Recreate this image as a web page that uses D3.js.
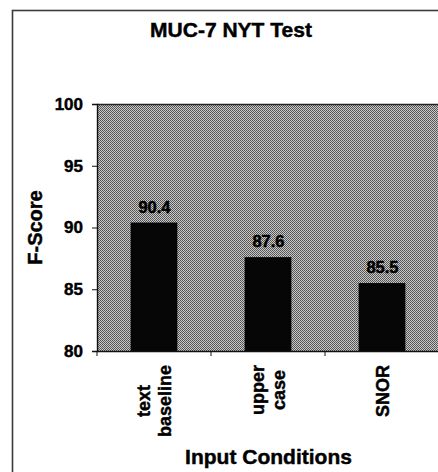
<!DOCTYPE html>
<html>
<head>
<meta charset="utf-8">
<script src="https://cdn.jsdelivr.net/npm/d3@7"></script>
<style>
  html, body { margin: 0; padding: 0; background: #fff; }
  svg { display: block; font-family: "Liberation Sans", Arial, Helvetica, sans-serif; font-weight: bold; }
  svg text { stroke: #000; stroke-width: 0.45px; }
</style>
</head>
<body>
<svg id="chart" width="438" height="472"></svg>
<script>
const title = "MUC-7 NYT Test";
const categories = ["text baseline", "upper case", "SNOR"];
const categoryLines = [["text", "baseline"], ["upper", "case"], ["SNOR"]];
const values = [90.4, 87.6, 85.5];
const valueLabels = ["90.4", "87.6", "85.5"];
const yTicks = [80, 85, 90, 95, 100];
const yTitle = "F-Score";
const xTitle = "Input Conditions";

const svg = d3.select("#chart");
const W = 438, H = 472;
const plot = { left: 97, top: 104, right: 439, bottom: 351 };

// outer frame (right and bottom run off the picture)
svg.append("rect")
  .attr("x", 12.5).attr("y", 10.5)
  .attr("width", W + 20).attr("height", H + 20)
  .attr("fill", "#fff").attr("stroke", "#3a3a3a").attr("stroke-width", 1.6);

// dithered grey pattern
const defs = svg.append("defs");
const pat = defs.append("pattern").attr("id", "dither")
  .attr("patternUnits", "userSpaceOnUse").attr("width", 2).attr("height", 2);
pat.append("rect").attr("width", 2).attr("height", 2).attr("fill", "#cacaca");
pat.append("rect").attr("width", 1).attr("height", 1).attr("fill", "#505050");
pat.append("rect").attr("x", 1).attr("y", 1).attr("width", 1).attr("height", 1).attr("fill", "#5c5c5c");

const x = d3.scaleBand().domain(categories).range([plot.left, plot.right]).padding(0);
const y = d3.scaleLinear().domain([80, 100]).range([plot.bottom, plot.top]);

// plot background
svg.append("rect")
  .attr("x", plot.left).attr("y", plot.top)
  .attr("width", W + 10 - plot.left).attr("height", plot.bottom - plot.top)
  .attr("fill", "url(#dither)");
svg.append("line")
  .attr("x1", plot.left).attr("x2", W + 5)
  .attr("y1", plot.top + 0.5).attr("y2", plot.top + 0.5)
  .attr("stroke", "#222").attr("stroke-width", 1.5);

// bars
const barW = x.bandwidth() * 0.41;
svg.append("g").selectAll("rect").data(values).join("rect")
  .attr("x", (d, i) => x(categories[i]) + x.bandwidth() / 2 - barW / 2)
  .attr("y", d => y(d))
  .attr("width", barW)
  .attr("height", d => y(80) - y(d))
  .attr("fill", "#060606");

// value labels
svg.append("g").selectAll("text").data(values).join("text")
  .attr("x", (d, i) => x(categories[i]) + x.bandwidth() / 2 + 0.5)
  .attr("y", d => y(d) - 10)
  .attr("text-anchor", "middle")
  .attr("font-size", 16.5)
  .attr("fill", "#000")
  .text((d, i) => valueLabels[i]);

// y axis
const yAxis = svg.append("g")
  .attr("transform", `translate(${plot.left},0)`)
  .call(d3.axisLeft(y).tickValues(yTicks).tickSize(5).tickPadding(9).tickFormat(d3.format("d")));
yAxis.select(".domain").attr("stroke", "#111").attr("stroke-width", 1.4);
yAxis.selectAll(".tick line").attr("stroke", "#111");
yAxis.selectAll(".tick text").attr("font-size", 17).attr("font-family", null).attr("font-weight", "bold").attr("fill", "#000");

// x axis
const xAxis = svg.append("g")
  .attr("transform", `translate(0,${plot.bottom})`)
  .call(d3.axisBottom(x).tickSize(0).tickFormat(""));
xAxis.select(".domain").attr("stroke", "#111").attr("stroke-width", 1.4);
xAxis.selectAll(".tick").remove();
const boundaries = categories.map(c => x(c));
xAxis.selectAll("line.bound").data(boundaries).join("line")
  .attr("class", "bound")
  .attr("x1", d => d).attr("x2", d => d)
  .attr("y1", 0).attr("y2", 5)
  .attr("stroke", "#111");

// category labels (rotated, multi-line, centred in a box anchored at top)
const labTop = 365;
categoryLines.forEach((lines, i) => {
  const cx = x(categories[i]) + x.bandwidth() / 2;
  const g = svg.append("g").attr("transform", `translate(${cx},${labTop}) rotate(-90)`);
  const texts = lines.map((ln, j) => g.append("text")
    .attr("font-size", 18)
    .attr("text-anchor", "middle")
    .attr("fill", "#000")
    .attr("y", 6.5 + (j - (lines.length - 1) / 2) * 21.5)
    .text(ln));
  const maxLen = d3.max(texts, t => t.node().getComputedTextLength());
  texts.forEach(t => t.attr("x", -maxLen / 2));
});

// axis titles
svg.append("text")
  .attr("transform", "translate(42,227.5) rotate(-90)")
  .attr("text-anchor", "middle")
  .attr("font-size", 20)
  .attr("fill", "#000")
  .text(yTitle);

svg.append("text")
  .attr("x", 268.5).attr("y", 464)
  .attr("text-anchor", "middle")
  .attr("font-size", 21)
  .attr("fill", "#000")
  .text(xTitle);

// chart title
svg.append("text")
  .attr("x", 231).attr("y", 37)
  .attr("text-anchor", "middle")
  .attr("font-size", 21)
  .attr("fill", "#000")
  .text(title);
</script>
</body>
</html>
